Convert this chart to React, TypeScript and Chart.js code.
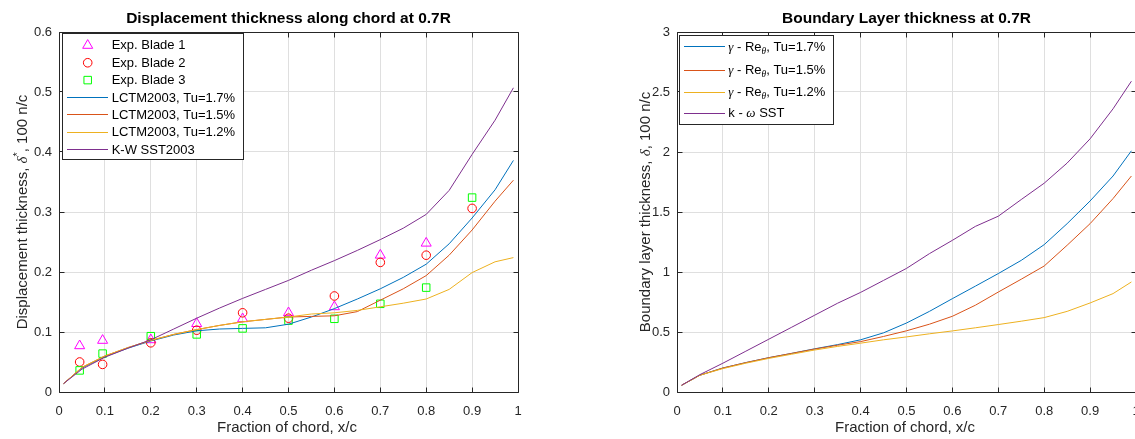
import React, { useEffect, useRef } from "react";
import { Chart, registerables } from "chart.js";

Chart.register(...registerables);

const SANS = "'Liberation Sans', Arial, Helvetica, sans-serif";
const SERIF = "'Liberation Serif', 'Times New Roman', serif";
const AXIS = "#262626";
const GRID = "#dfdfdf";
const BLUE = "#0072BD";
const ORANGE = "#D95319";
const YELLOW = "#EDB120";
const PURPLE = "#7E2F8E";
const MAGENTA = "#FF00FF";
const RED = "#FF0000";
const GREEN = "#00FF00";

// ---------------- data ----------------
const xTicks = [0, 0.1, 0.2, 0.3, 0.4, 0.5, 0.6, 0.7, 0.8, 0.9, 1];
const dispTicks = [0, 0.1, 0.2, 0.3, 0.4, 0.5, 0.6];
const blTicks = [0, 0.5, 1, 1.5, 2, 2.5, 3];

const chordX = [0.01, 0.05, 0.1, 0.15, 0.2, 0.25, 0.3, 0.35, 0.4, 0.45, 0.5, 0.55, 0.6, 0.65, 0.7, 0.75, 0.8, 0.85, 0.9, 0.95, 0.99];

const blade1X = [0.045, 0.095, 0.2, 0.3, 0.4, 0.5, 0.6, 0.7, 0.8];
const blade1 = [0.077, 0.086, 0.087, 0.114, 0.122, 0.132, 0.142, 0.228, 0.248];
const bladeX = [0.045, 0.095, 0.2, 0.3, 0.4, 0.5, 0.6, 0.7, 0.8, 0.9];
const blade2 = [0.05, 0.046, 0.082, 0.103, 0.132, 0.123, 0.16, 0.216, 0.228, 0.306];
const blade3 = [0.036, 0.064, 0.093, 0.096, 0.106, 0.119, 0.122, 0.147, 0.174, 0.324];

const dispTu17 = [0.014, 0.040, 0.059, 0.073, 0.085, 0.095, 0.102, 0.105, 0.106, 0.107, 0.113, 0.125, 0.139, 0.155, 0.172, 0.191, 0.213, 0.247, 0.29, 0.337, 0.386];
const dispTu15 = [0.014, 0.041, 0.060, 0.074, 0.086, 0.096, 0.104, 0.111, 0.117, 0.121, 0.125, 0.126, 0.127, 0.134, 0.153, 0.172, 0.194, 0.228, 0.27, 0.318, 0.353];
const dispTu12 = [0.014, 0.041, 0.060, 0.074, 0.086, 0.096, 0.104, 0.111, 0.117, 0.121, 0.125, 0.13, 0.132, 0.136, 0.142, 0.148, 0.155, 0.171, 0.199, 0.217, 0.224];
const dispSST = [0.014, 0.038, 0.058, 0.073, 0.087, 0.105, 0.123, 0.14, 0.156, 0.171, 0.186, 0.203, 0.219, 0.236, 0.254, 0.273, 0.296, 0.336, 0.396, 0.453, 0.507];

const blTu17 = [0.056, 0.14, 0.2, 0.245, 0.286, 0.322, 0.36, 0.395, 0.435, 0.493, 0.575, 0.672, 0.778, 0.882, 0.987, 1.097, 1.228, 1.403, 1.592, 1.8, 2.01];
const blTu15 = [0.056, 0.14, 0.2, 0.245, 0.286, 0.322, 0.358, 0.39, 0.42, 0.463, 0.51, 0.565, 0.631, 0.723, 0.833, 0.94, 1.05, 1.223, 1.403, 1.612, 1.8];
const blTu12 = [0.056, 0.14, 0.195, 0.24, 0.28, 0.315, 0.35, 0.38, 0.407, 0.435, 0.459, 0.485, 0.509, 0.535, 0.562, 0.59, 0.62, 0.672, 0.742, 0.82, 0.917];
const blSST = [0.056, 0.145, 0.24, 0.34, 0.44, 0.54, 0.64, 0.74, 0.83, 0.93, 1.03, 1.153, 1.264, 1.38, 1.465, 1.604, 1.74, 1.908, 2.11, 2.36, 2.59];

const leftTitle = "Displacement thickness along chord at 0.7R";
const rightTitle = "Boundary Layer thickness at 0.7R";
const xLabel = "Fraction of chord, x/c";
const leftYLabel = "Displacement thickness, δ^*, 100 n/c";
const rightYLabel = "Boundary layer thickness, δ, 100 n/c";
const leftLegend = ["Exp. Blade 1", "Exp. Blade 2", "Exp. Blade 3", "LCTM2003, Tu=1.7%", "LCTM2003, Tu=1.5%", "LCTM2003, Tu=1.2%", "K-W SST2003"];
const rightLegend = ["γ - Re_θ, Tu=1.7%", "γ - Re_θ, Tu=1.5%", "γ - Re_θ, Tu=1.2%", "k - ω SST"];

// ---------------- rich text helpers ----------------
type Seg = { t: string; it: boolean; mode: number };
function parseRich(s: string): Seg[] {
  const segs: Seg[] = [];
  let i = 0;
  while (i < s.length) {
    let ch = s[i];
    let mode = 0;
    if ((ch === "^" || ch === "_") && i + 1 < s.length) {
      mode = ch === "^" ? 1 : -1;
      i++;
      ch = s[i];
    }
    const it = /[\u03b1-\u03c9]/.test(ch);
    const last = segs[segs.length - 1];
    if (last && last.it === it && last.mode === mode) last.t += ch;
    else segs.push({ t: ch, it, mode });
    i++;
  }
  return segs;
}
function segFont(sg: Seg, size: number) {
  const sz = sg.mode ? size * 0.72 : size;
  return `${sg.it ? "italic " : ""}${sz}px ${sg.it ? SERIF : SANS}`;
}
function drawRich(ctx: CanvasRenderingContext2D, s: string, x: number, y: number, size: number, align: string, color: string) {
  const segs = parseRich(s);
  let total = 0;
  const ws = segs.map((sg) => {
    ctx.font = segFont(sg, size);
    const w = ctx.measureText(sg.t).width;
    total += w;
    return w;
  });
  let cx = align === "center" ? x - total / 2 : x;
  ctx.fillStyle = color;
  ctx.textAlign = "left";
  segs.forEach((sg, k) => {
    ctx.font = segFont(sg, size);
    const dy = sg.mode === 1 ? -0.42 * size : sg.mode === -1 ? 0.3 * size : 0;
    ctx.fillText(sg.t, cx, y + dy);
    cx += ws[k];
  });
}

const al = (p: number) => Math.round(p - 0.5) + 0.5;

function drawMarker(ctx: CanvasRenderingContext2D, kind: string, x: number, y: number, color: string) {
  ctx.strokeStyle = color;
  ctx.lineWidth = 1;
  ctx.beginPath();
  if (kind === "triangle") {
    const r = 5.8;
    for (let k = 0; k < 3; k++) {
      const a = (k * 2 * Math.PI) / 3;
      const px = x + Math.sin(a) * r;
      const py = y - Math.cos(a) * r;
      if (k === 0) ctx.moveTo(px, py);
      else ctx.lineTo(px, py);
    }
    ctx.closePath();
  } else if (kind === "circle") {
    ctx.arc(x, y, 4.3, 0, Math.PI * 2);
  } else {
    ctx.rect(x - 3.75, y - 3.75, 7.5, 7.5);
  }
  ctx.stroke();
}

type LegendItem = { label: string; kind: string; color: string };
type DecorCfg = {
  offsetX: number;
  title: string;
  yLabel: string;
  yLabelX: number;
  xTicks: number[];
  yTicks: number[];
  legend: { x1: number; y1: number; x2: number; y2: number; rows: number[]; lineX1: number; lineX2: number; markerX: number; textX: number; items: LegendItem[] };
};

function makeDecor(cfg: DecorCfg) {
  return {
    id: "decor",
    afterDraw(chart: any) {
      const ctx: CanvasRenderingContext2D = chart.ctx;
      const a = chart.chartArea;
      const ox = cfg.offsetX;
      const xs = chart.scales.x;
      const ys = chart.scales.y;
      ctx.save();
      // box + inward ticks
      const L = al(a.left), R = al(a.right), T = al(a.top), B = al(a.bottom);
      ctx.strokeStyle = AXIS;
      ctx.lineWidth = 1;
      ctx.beginPath();
      ctx.rect(L, T, R - L, B - T);
      cfg.xTicks.forEach((v) => {
        const px = al(xs.getPixelForValue(v));
        ctx.moveTo(px, B);
        ctx.lineTo(px, B - 5);
        ctx.moveTo(px, T);
        ctx.lineTo(px, T + 5);
      });
      cfg.yTicks.forEach((v) => {
        const py = al(ys.getPixelForValue(v));
        ctx.moveTo(L, py);
        ctx.lineTo(L + 5, py);
        ctx.moveTo(R, py);
        ctx.lineTo(R - 5, py);
      });
      ctx.stroke();

      // title
      ctx.font = `bold 15.5px ${SANS}`;
      ctx.fillStyle = "#000";
      ctx.textAlign = "center";
      ctx.textBaseline = "alphabetic";
      ctx.fillText(cfg.title, (a.left + a.right) / 2, 23);

      // x label
      ctx.font = `15px ${SANS}`;
      ctx.fillStyle = AXIS;
      ctx.fillText(xLabel, (a.left + a.right) / 2 - 1.5, 431.5);

      // y label
      ctx.save();
      ctx.translate(cfg.yLabelX - ox, (a.top + a.bottom) / 2);
      ctx.rotate(-Math.PI / 2);
      ctx.textBaseline = "alphabetic";
      drawRich(ctx, cfg.yLabel, 0, 0, 15, "center", AXIS);
      ctx.restore();

      // legend
      const lg = cfg.legend;
      ctx.fillStyle = "#fff";
      ctx.fillRect(lg.x1 - ox, lg.y1, lg.x2 - lg.x1, lg.y2 - lg.y1);
      ctx.strokeStyle = AXIS;
      ctx.lineWidth = 1;
      ctx.strokeRect(al(lg.x1 - ox), al(lg.y1), Math.round(lg.x2 - lg.x1), Math.round(lg.y2 - lg.y1));
      lg.items.forEach((it, k) => {
        const y = lg.rows[k];
        if (it.kind === "line") {
          ctx.strokeStyle = it.color;
          ctx.lineWidth = 1;
          ctx.beginPath();
          ctx.moveTo(lg.lineX1 - ox, al(y));
          ctx.lineTo(lg.lineX2 - ox, al(y));
          ctx.stroke();
        } else {
          drawMarker(ctx, it.kind, lg.markerX - ox, y, it.color);
        }
        ctx.textBaseline = "middle";
        drawRich(ctx, it.label, lg.textX - ox, y + 0.5, 13, "left", "#000");
      });
      ctx.restore();
    },
  };
}

const fmt = (v: any) => String(Math.round(Number(v) * 1000) / 1000);
const toPts = (xs: number[], ys: number[]) => xs.map((x, i) => ({ x, y: ys[i] }));

function lineDs(label: string, ys: number[], color: string, order: number) {
  return {
    label,
    data: toPts(chordX, ys),
    showLine: true,
    borderColor: color,
    backgroundColor: color,
    borderWidth: 1,
    pointRadius: 0,
    pointHoverRadius: 0,
    fill: false,
    tension: 0,
    order,
  };
}
function markerDs(label: string, xs: number[], ys: number[], color: string, style: string, r: number, order: number) {
  return {
    label,
    data: toPts(xs, ys),
    showLine: false,
    pointStyle: style,
    pointRadius: r,
    pointHoverRadius: r,
    pointBorderColor: color,
    pointBackgroundColor: "rgba(0,0,0,0)",
    pointBorderWidth: 1,
    borderColor: color,
    backgroundColor: "rgba(0,0,0,0)",
    order,
  };
}

function buildConfig(datasets: any[], yTicks: number[], yMax: number, yWidth: number, padRight: number, decor: DecorCfg): any {
  const tickFont = { family: SANS, size: 13 };
  return {
    type: "scatter",
    data: { datasets },
    options: {
      responsive: false,
      animation: false,
      devicePixelRatio: 1,
      events: [],
      layout: { padding: { left: 0, top: 32, right: padRight, bottom: 0 } },
      plugins: { legend: { display: false }, title: { display: false }, tooltip: { enabled: false } },
      scales: {
        x: {
          type: "linear",
          min: 0,
          max: 1,
          afterBuildTicks: (s: any) => {
            s.ticks = xTicks.map((v) => ({ value: v }));
          },
          afterFit: (s: any) => {
            s.height = 47;
          },
          grid: { color: GRID, drawTicks: false, lineWidth: 1 },
          border: { display: false },
          ticks: { padding: 12, color: AXIS, font: tickFont, maxRotation: 0, autoSkip: false, callback: fmt },
        },
        y: {
          type: "linear",
          min: 0,
          max: yMax,
          afterBuildTicks: (s: any) => {
            s.ticks = yTicks.map((v) => ({ value: v }));
          },
          afterFit: (s: any) => {
            s.width = yWidth;
          },
          grid: { color: GRID, drawTicks: false, lineWidth: 1 },
          border: { display: false },
          ticks: { padding: 7, color: AXIS, font: tickFont, autoSkip: false, callback: fmt },
        },
      },
    },
    plugins: [makeDecor(decor)],
  };
}

export default function App() {
  const leftRef = useRef<HTMLCanvasElement>(null);
  const rightRef = useRef<HTMLCanvasElement>(null);

  useEffect(() => {
    const leftDs = [
      markerDs(leftLegend[0], blade1X, blade1, MAGENTA, "triangle", 5.8, 10),
      markerDs(leftLegend[1], bladeX, blade2, RED, "circle", 4.3, 9),
      markerDs(leftLegend[2], bladeX, blade3, GREEN, "rect", 5.3, 8),
      lineDs(leftLegend[3], dispTu17, BLUE, 3),
      lineDs(leftLegend[4], dispTu15, ORANGE, 2),
      lineDs(leftLegend[5], dispTu12, YELLOW, 1),
      lineDs(leftLegend[6], dispSST, PURPLE, 0),
    ];
    const leftKinds = ["triangle", "circle", "rect", "line", "line", "line", "line"];
    const leftColors = [MAGENTA, RED, GREEN, BLUE, ORANGE, YELLOW, PURPLE];
    const c1 = new Chart(
      leftRef.current as HTMLCanvasElement,
      buildConfig(leftDs, dispTicks, 0.6, 59, 42, {
        offsetX: 0,
        title: leftTitle,
        yLabel: leftYLabel,
        yLabelX: 27,
        xTicks,
        yTicks: dispTicks,
        legend: {
          x1: 62,
          y1: 33,
          x2: 243,
          y2: 159,
          rows: [45.4, 62.75, 80.1, 97.45, 114.8, 132.15, 149.5],
          lineX1: 67,
          lineX2: 108,
          markerX: 87.7,
          textX: 111.7,
          items: leftLegend.map((label, i) => ({ label, kind: leftKinds[i], color: leftColors[i] })),
        },
      })
    );

    const rightDs = [
      lineDs(rightLegend[0], blTu17, BLUE, 3),
      lineDs(rightLegend[1], blTu15, ORANGE, 2),
      lineDs(rightLegend[2], blTu12, YELLOW, 1),
      lineDs(rightLegend[3], blSST, PURPLE, 0),
    ];
    const rightColors = [BLUE, ORANGE, YELLOW, PURPLE];
    const c2 = new Chart(
      rightRef.current as HTMLCanvasElement,
      buildConfig(rightDs, blTicks, 3, 117, 24, {
        offsetX: 560,
        title: rightTitle,
        yLabel: rightYLabel,
        yLabelX: 649.5,
        xTicks,
        yTicks: blTicks,
        legend: {
          x1: 679,
          y1: 35,
          x2: 833,
          y2: 124,
          rows: [46.7, 70, 92.3, 113.3],
          lineX1: 684,
          lineX2: 725,
          markerX: 704,
          textX: 728.3,
          items: rightLegend.map((label, i) => ({ label, kind: "line", color: rightColors[i] })),
        },
      })
    );
    return () => {
      c1.destroy();
      c2.destroy();
    };
  }, []);

  return (
    <div style={{ position: "fixed", left: 0, top: 0, width: 1135, height: 439, overflow: "hidden", background: "#fff" }}>
      <canvas ref={leftRef} width={560} height={439} style={{ position: "absolute", left: 0, top: 0, width: 560, height: 439 }} />
      <canvas ref={rightRef} width={600} height={439} style={{ position: "absolute", left: 560, top: 0, width: 600, height: 439 }} />
    </div>
  );
}
